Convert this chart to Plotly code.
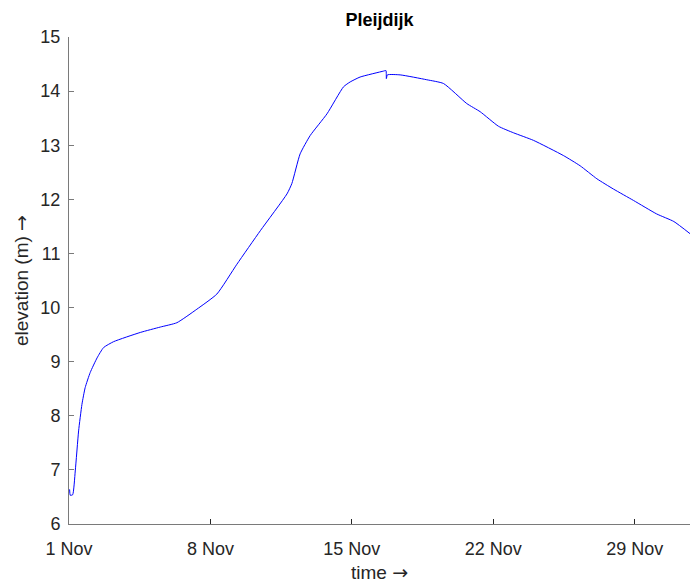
import plotly.graph_objects as go

# Water level series at Pleijdijk, November
times = [
    "2023-11-01 00:43", "2023-11-01 01:30", "2023-11-01 04:20", "2023-11-01 07:26",
    "2023-11-01 11:24", "2023-11-01 15:22", "2023-11-01 19:12", "2023-11-02 01:12",
    "2023-11-02 09:22", "2023-11-02 17:02", "2023-11-03 05:02", "2023-11-04 12:43",
    "2023-11-05 12:29", "2023-11-06 08:10", "2023-11-07 07:55", "2023-11-08 07:41",
    "2023-11-09 07:26", "2023-11-10 11:17", "2023-11-11 18:58", "2023-11-12 00:43",
    "2023-11-12 10:34", "2023-11-12 22:34", "2023-11-13 18:29", "2023-11-14 14:10",
    "2023-11-14 22:05", "2023-11-15 09:50", "2023-11-16 13:41", "2023-11-16 16:34",
    "2023-11-16 17:02", "2023-11-16 18:14", "2023-11-17 09:22", "2023-11-18 17:02",
    "2023-11-19 12:58", "2023-11-20 16:34", "2023-11-21 08:24", "2023-11-22 06:14",
    "2023-11-23 00:00", "2023-11-23 23:46", "2023-11-25 11:17", "2023-11-26 07:12",
    "2023-11-27 03:07", "2023-11-27 22:48", "2023-11-28 22:34", "2023-11-30 02:10",
    "2023-11-30 22:34", "2023-12-01 18:14",
]
elevation = [
    6.64, 6.53, 6.54, 6.98, 7.72, 8.21, 8.52, 8.80, 9.07, 9.26, 9.37, 9.54,
    9.64, 9.72, 9.97, 10.25, 10.80, 11.42, 12.10, 12.29, 12.84, 13.18, 13.58, 14.08,
    14.17, 14.26, 14.37, 14.38, 14.23, 14.30, 14.30, 14.21, 14.14, 13.77, 13.62, 13.35,
    13.23, 13.09, 12.81, 12.62, 12.38, 12.19, 11.98, 11.73, 11.59, 11.36,
]

x_tick_vals = ["2023-11-01", "2023-11-08", "2023-11-15", "2023-11-22", "2023-11-29"]
x_tick_text = ["1 Nov", "8 Nov", "15 Nov", "22 Nov", "29 Nov"]
y_ticks = [6, 7, 8, 9, 10, 11, 12, 13, 14, 15]

FONT = "Liberation Sans, Arial, Helvetica, sans-serif"
ARROW = '<span style="font-family:DejaVu Sans">\u2192</span>'
AXIS_COLOR = "#7a7a7a"
TEXT_COLOR = "#262626"

fig = go.Figure()
fig.add_trace(go.Scatter(
    x=times, y=elevation, mode="lines",
    line=dict(color="#0000ff", width=1, shape="spline", smoothing=0.5),
    hoverinfo="skip", showlegend=False,
))

fig.update_layout(
    width=690, height=584,
    margin=dict(l=69, r=0, t=37, b=60),
    paper_bgcolor="white", plot_bgcolor="white",
    font=dict(family=FONT, color=TEXT_COLOR, size=18),
    title=dict(
        text="<b>Pleijdijk</b>", x=0.5, xref="paper", y=1, yref="container",
        yanchor="top", pad=dict(t=13),
        font=dict(family=FONT, size=18, color="black"),
    ),
)

fig.update_xaxes(
    type="date",
    range=["2023-11-01 00:00", "2023-12-01 17:45"],
    tickvals=x_tick_vals, ticktext=x_tick_text,
    ticks="inside", ticklen=5, tickwidth=1, tickcolor=TEXT_COLOR,
    showline=True, linecolor=AXIS_COLOR, linewidth=1,
    showgrid=False, zeroline=False,
    ticklabelstandoff=8,
    tickfont=dict(size=18, color=TEXT_COLOR),
    title=dict(text="time " + ARROW, font=dict(size=19, color=TEXT_COLOR), standoff=8),
)
fig.update_yaxes(
    range=[6, 15],
    tickvals=y_ticks,
    ticks="inside", ticklen=5, tickwidth=1, tickcolor=AXIS_COLOR,
    showline=True, linecolor=AXIS_COLOR, linewidth=1,
    showgrid=False, zeroline=False,
    ticklabelstandoff=4,
    tickfont=dict(size=18, color=TEXT_COLOR),
    title=dict(text="elevation (m) " + ARROW, font=dict(size=19, color=TEXT_COLOR), standoff=6),
)

fig.write_html("out.html")
